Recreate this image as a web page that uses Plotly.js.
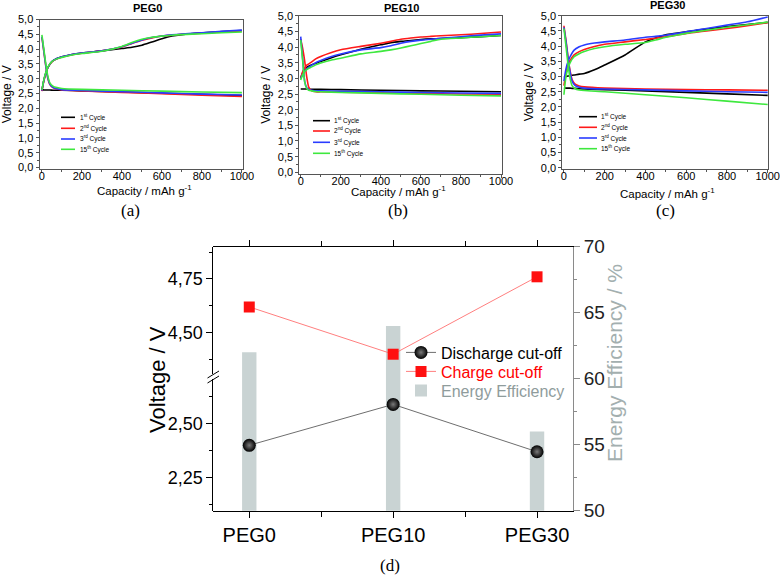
<!DOCTYPE html>
<html><head><meta charset="utf-8">
<script src="https://cdn.plot.ly/plotly-3.0.1.min.js"></script>
<style>html,body{margin:0;padding:0;background:#fff}#chart{width:780px;height:577px}</style>
</head><body><div id="chart"></div>
<script>
// ---------- data ----------
const cycleNames = ['1<sup>st</sup> Cycle','2<sup>nd</sup> Cycle','3<sup>rd</sup> Cycle','15<sup>th</sup> Cycle'];
const cycleColors = ['#000000','#ff1a1a','#2a3cff','#3ee83e'];
const panelNames = ['PEG0','PEG10','PEG30'];
const panelLetters = ['(a)','(b)','(c)'];

const capCharge    = [0,10,20,30,50,75,100,150,200,300,400,450,500,550,600,650,700,800,900,1000];
const capDischarge = [0,10,20,30,40,55,75,100,200,400,600,800,1000];

// PEG0
const peg0Charge = [
  [2.60,2.95,3.20,3.38,3.58,3.68,3.74,3.82,3.87,3.94,4.02,4.06,4.13,4.24,4.35,4.44,4.49,4.55,4.59,4.63],
  [2.58,2.93,3.18,3.37,3.57,3.67,3.73,3.81,3.86,3.94,4.07,4.19,4.30,4.38,4.44,4.47,4.50,4.54,4.58,4.62],
  [2.60,2.95,3.20,3.38,3.58,3.68,3.74,3.82,3.87,3.94,4.08,4.20,4.31,4.39,4.44,4.48,4.51,4.55,4.60,4.64],
  [2.62,2.97,3.22,3.40,3.58,3.67,3.72,3.80,3.85,3.93,4.09,4.22,4.33,4.40,4.44,4.47,4.49,4.52,4.55,4.58]
];
const peg0Discharge = [
  [2.63,2.62,2.62,2.62,2.62,2.61,2.61,2.61,2.59,2.55,2.51,2.47,2.43],
  [4.40,3.90,3.40,3.00,2.80,2.70,2.65,2.62,2.59,2.54,2.49,2.44,2.40],
  [4.42,3.92,3.42,3.02,2.82,2.71,2.66,2.63,2.60,2.56,2.52,2.48,2.45],
  [4.48,3.98,3.48,3.08,2.86,2.75,2.70,2.67,2.64,2.61,2.58,2.55,2.53]
];
// PEG10
const peg10Charge = [
  [3.00,3.18,3.28,3.35,3.42,3.48,3.54,3.65,3.75,3.93,4.07,4.14,4.18,4.21,4.24,4.26,4.27,4.30,4.33,4.37],
  [3.00,3.22,3.33,3.42,3.50,3.62,3.70,3.82,3.91,4.02,4.12,4.18,4.25,4.29,4.32,4.34,4.36,4.39,4.43,4.48],
  [3.00,3.12,3.22,3.30,3.40,3.50,3.57,3.69,3.78,3.91,3.98,4.04,4.12,4.18,4.22,4.25,4.28,4.33,4.38,4.42],
  [2.95,3.12,3.22,3.28,3.35,3.43,3.49,3.58,3.64,3.78,3.86,3.91,3.97,4.04,4.11,4.18,4.25,4.29,4.33,4.37]
];
const peg10Discharge = [
  [2.66,2.66,2.66,2.66,2.65,2.65,2.65,2.65,2.64,2.62,2.60,2.59,2.57],
  [4.25,3.95,3.55,3.05,2.72,2.60,2.57,2.57,2.56,2.54,2.52,2.50,2.49],
  [4.33,3.60,2.90,2.70,2.64,2.62,2.60,2.60,2.59,2.57,2.55,2.53,2.52],
  [4.22,3.55,2.88,2.68,2.62,2.60,2.58,2.57,2.55,2.52,2.49,2.46,2.44]
];
// PEG30
const peg30Charge = [
  [2.97,3.00,3.02,3.03,3.05,3.08,3.10,3.22,3.38,3.71,4.14,4.27,4.37,4.42,4.47,4.52,4.56,4.64,4.71,4.78],
  [2.70,3.10,3.38,3.52,3.71,3.82,3.89,3.99,4.06,4.14,4.22,4.26,4.31,4.36,4.42,4.46,4.50,4.58,4.67,4.77],
  [2.85,3.25,3.49,3.65,3.87,3.98,4.04,4.10,4.14,4.20,4.29,4.32,4.36,4.41,4.47,4.53,4.58,4.69,4.80,4.96],
  [2.40,3.00,3.27,3.45,3.65,3.75,3.82,3.92,3.98,4.06,4.12,4.20,4.29,4.36,4.42,4.47,4.52,4.62,4.70,4.79]
];
const peg30Discharge = [
  [2.63,2.62,2.62,2.62,2.61,2.61,2.60,2.59,2.57,2.53,2.48,2.43,2.38],
  [4.67,4.20,3.65,3.20,2.90,2.75,2.69,2.66,2.62,2.59,2.57,2.56,2.55],
  [4.62,4.15,3.60,3.15,2.85,2.70,2.65,2.62,2.59,2.56,2.53,2.50,2.48],
  [4.58,4.00,3.40,2.95,2.70,2.60,2.56,2.54,2.50,2.40,2.30,2.19,2.08]
];

// panel (d)
const samples = ['PEG0','PEG10','PEG30'];
const dischargeCutoff = [2.40, 2.59, 2.37];
const chargeCutoff = [4.62, 4.40, 4.76];
const energyEfficiency = [62, 64, 56];

// ---------- helpers ----------
const W = 780, H = 577;
const px = x => x / W, py = y => 1 - y / H;
const FONT = 'Liberation Sans, Arial, sans-serif';
const SERIF = 'Liberation Serif, Times New Roman, serif';

const chargeSets = [peg0Charge, peg10Charge, peg30Charge];
const dischargeSets = [peg0Discharge, peg10Discharge, peg30Discharge];

// panel frames (pixels) and ranges
const panelFrame = [
  {x:[39.5,242.7], y:[169,19.5], xr:[-12,1004], yr:[-0.05,5.0], title:[147,8], letter:[130,210], xt:[144,190], leg:{x0:61,x1:75,tx:78,ys:[117.3,128.3,139,149.3]}},
  {x:[299.3,502],  y:[174,15.7], xr:[-7,1005],  yr:[-0.054,5.0], title:[402,8], letter:[398,210], xt:[399,191], leg:{x0:313,x1:330,tx:332,ys:[120.7,131,142.3,153.3]}},
  {x:[562.3,768.3],y:[169,15.7], xr:[-8,1003],  yr:[-0.04,5.0], title:[667,5], letter:[665,210], xt:[667,193], leg:{x0:579,x1:597,tx:599,ys:[116.7,127.3,138,148.7]}}
];

const traces = [];
// panel (d) traces first (bars behind)
traces.push({
  type:'bar', x: samples, y: energyEfficiency, xaxis:'x', yaxis:'y', width:0.1,
  marker:{color:'#c9d3d3'}, name:'<span style="color:#8f9c9c">Energy Efficiency</span>',
  legend:'legend3', hoverinfo:'skip'
});
traces.push({
  type:'scatter', mode:'lines+markers', x: samples, y: dischargeCutoff, xaxis:'x', yaxis:'y2',
  line:{color:'#6e6e6e', width:1},
  marker:{symbol:'circle', size:13, color:'#000', gradient:{type:'radial', color:'#7a7a7a'}, line:{width:0}},
  name:'Discharge cut-off', legend:'legend'
});
traces.push({
  type:'scatter', mode:'lines+markers', x: samples, y: chargeCutoff, xaxis:'x', yaxis:'y3',
  line:{color:'#ff7f7f', width:1},
  marker:{symbol:'square', size:11, color:'#ff1010', line:{width:0}},
  name:'<span style="color:#ff0000">Charge cut-off</span>', legend:'legend2'
});
// empty helper trace so the tick-only overlay axis (minor category ticks) is drawn
traces.push({type:'scatter', mode:'markers', x:[], y:[], xaxis:'x5', yaxis:'y', showlegend:false, hoverinfo:'skip'});

// panels (a)-(c)
for (let p = 0; p < 3; p++) {
  const xa = 'x' + (p + 2), ya = 'y' + (p + 4);
  for (let c = 0; c < 4; c++) {
    traces.push({type:'scatter', mode:'lines', x: capCharge, y: chargeSets[p][c], xaxis: xa, yaxis: ya,
      line:{color: cycleColors[c], width:1.6, shape:'spline', smoothing:0.6}, showlegend:false, hoverinfo:'skip'});
    traces.push({type:'scatter', mode:'lines', x: capDischarge, y: dischargeSets[p][c], xaxis: xa, yaxis: ya,
      line:{color: cycleColors[c], width:1.6, shape:'spline', smoothing:0.5}, showlegend:false, hoverinfo:'skip'});
  }
}

const legendBase = (row) => ({x:px(401), y:py(row), xanchor:'left', yanchor:'middle', bgcolor:'rgba(0,0,0,0)',
  font:{size:16, family:FONT, color:'#000'}, itemwidth:30, borderwidth:0});

const layout = {
  width: W, height: H, margin:{l:0,r:0,t:0,b:0}, paper_bgcolor:'#fff', plot_bgcolor:'rgba(0,0,0,0)',
  separators: ',.', font:{family: FONT, color:'#000'}, showlegend:true,
  legend: legendBase(352.5), legend2: legendBase(371.5), legend3: legendBase(390.5),
  // panel (d)
  xaxis:{domain:[px(213.3), px(573)], anchor:'y', type:'category', range:[-0.25,2.25],
         showline:true, linecolor:'#000', linewidth:1, mirror:'ticks', ticks:'outside', ticklen:6, tickcolor:'#000',
         tickfont:{size:20, family:FONT}, showgrid:false, zeroline:false},
  xaxis5:{overlaying:'x', anchor:'y', range:[-0.25,2.25], tick0:0.5, dtick:1, ticks:'outside', ticklen:5, tickcolor:'#000',
          mirror:'ticks', showline:false, showticklabels:false, showgrid:false, zeroline:false},
  yaxis:{domain:[py(510.7), py(246.7)], anchor:'x', side:'right', range:[50,70], dtick:5, tick0:50,
         showline:true, linecolor:'#8a8a8a', linewidth:1, ticks:'outside', ticklen:6, tickcolor:'#8a8a8a',
         tickfont:{size:19, color:'#222', family:FONT}, showgrid:false, zeroline:false,
         minor:{dtick:2.5, ticks:'outside', ticklen:3, tickcolor:'#8a8a8a'}},
  yaxis2:{domain:[py(510.7), py(379)], anchor:'x', range:[2.096, 2.708], tick0:0, dtick:0.25, tickformat:'.2f',
          showline:true, linecolor:'#000', linewidth:1, ticks:'outside', ticklen:6, tickcolor:'#000',
          tickfont:{size:18, family:FONT}, showgrid:false, zeroline:false,
          minor:{dtick:0.125, ticks:'outside', ticklen:3, tickcolor:'#000'}},
  yaxis3:{domain:[py(374), py(246.7)], anchor:'x', range:[4.308, 4.90], tick0:0, dtick:0.25, tickformat:'.2f',
          showline:true, linecolor:'#000', linewidth:1, ticks:'outside', ticklen:6, tickcolor:'#000',
          tickfont:{size:18, family:FONT}, showgrid:false, zeroline:false,
          minor:{dtick:0.125, ticks:'outside', ticklen:3, tickcolor:'#000'}},
  annotations: [], shapes: []
};

for (let p = 0; p < 3; p++) {
  const f = panelFrame[p];
  layout['xaxis' + (p + 2)] = {
    domain:[px(f.x[0]), px(f.x[1])], anchor:'y' + (p + 4), range: f.xr, dtick:200, tick0:0,
    showline:true, mirror:true, linecolor:'#555', linewidth:1, ticks:'outside', ticklen:3, tickcolor:'#555',
    tickfont:{size:11, family:FONT}, ticklabelstandoff:-6, showgrid:false, zeroline:false,
    minor:{dtick:100, ticks:'outside', ticklen:2, tickcolor:'#555'}
  };
  layout['yaxis' + (p + 4)] = {
    domain:[py(f.y[0]), py(f.y[1])], anchor:'x' + (p + 2), range: f.yr, dtick:0.5, tick0:0, tickformat:'.1f',
    showline:true, mirror:true, linecolor:'#555', linewidth:1, ticks:'outside', ticklen:3, tickcolor:'#555',
    tickfont:{size:11, family:FONT}, showgrid:false, zeroline:false,
    minor:{dtick:0.25, ticks:'outside', ticklen:2, tickcolor:'#555'},
    title:{text:'Voltage / V', font:{size:12, family:FONT}, standoff:4}
  };
  layout.annotations.push({text:'Capacity / mAh g<sup>-1</sup>', x:px(f.xt[0]), y:py(f.xt[1]), xref:'paper', yref:'paper',
    showarrow:false, font:{size:11.5, family:FONT}, xanchor:'center', yanchor:'middle'});
  layout.annotations.push({text:'<b>' + panelNames[p] + '</b>', x:px(f.title[0]), y:py(f.title[1]), xref:'paper', yref:'paper',
    showarrow:false, font:{size:11, family:FONT}, xanchor:'center', yanchor:'middle'});
  layout.annotations.push({text:panelLetters[p], x:px(f.letter[0]), y:py(f.letter[1]), xref:'paper', yref:'paper',
    showarrow:false, font:{size:17, family:SERIF}, xanchor:'center', yanchor:'middle'});
  for (let c = 0; c < 4; c++) {
    const yy = f.leg.ys[c];
    layout.shapes.push({type:'line', xref:'paper', yref:'paper', x0:px(f.leg.x0), x1:px(f.leg.x1), y0:py(yy), y1:py(yy),
      line:{color:cycleColors[c], width:1.6}});
    layout.annotations.push({text:cycleNames[c], x:px(f.leg.tx), y:py(yy), xref:'paper', yref:'paper', showarrow:false,
      xanchor:'left', yanchor:'middle', font:{size:6.5, family:FONT}});
  }
}

// panel (d) texts
layout.annotations.push({text:'(d)', x:px(390), y:py(565), xref:'paper', yref:'paper', showarrow:false,
  xanchor:'center', yanchor:'middle', font:{size:17, family:SERIF}});
layout.annotations.push({text:'Voltage / V', x:px(157), y:py(380), xref:'paper', yref:'paper', showarrow:false,
  xanchor:'center', yanchor:'middle', textangle:-90, font:{size:22, family:FONT, color:'#000'}});
layout.annotations.push({text:'Energy Efficiency / %', x:px(614), y:py(363), xref:'paper', yref:'paper', showarrow:false,
  xanchor:'center', yanchor:'middle', textangle:-90, font:{size:21, family:FONT, color:'#a3afaf'}});
// axis break marks
layout.shapes.push({type:'line', xref:'paper', yref:'paper', x0:px(207.5), x1:px(219), y0:py(378), y1:py(371), line:{color:'#000', width:1}});
layout.shapes.push({type:'line', xref:'paper', yref:'paper', x0:px(207.5), x1:px(219), y0:py(383), y1:py(376), line:{color:'#000', width:1}});

Plotly.newPlot('chart', traces, layout, {staticPlot:true, displayModeBar:false});
</script></body></html>
